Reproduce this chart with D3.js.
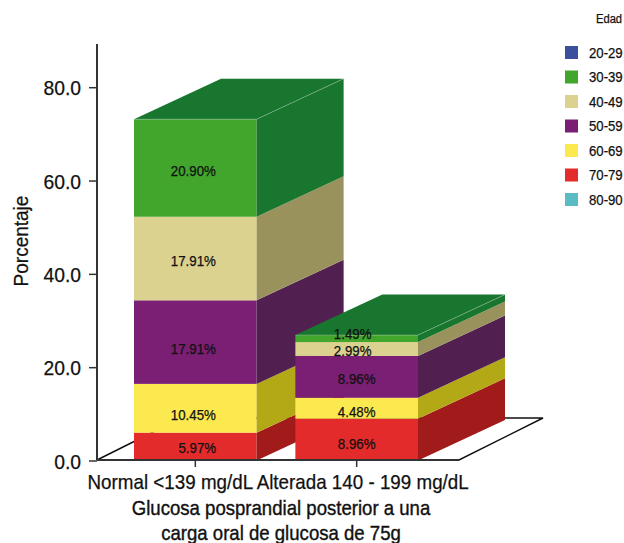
<!DOCTYPE html>
<html>
<head>
<meta charset="utf-8">
<script src="https://cdn.jsdelivr.net/npm/d3@7"></script>
<style>
  html, body { margin: 0; padding: 0; background: #fff; }
  svg { display: block; font-family: "Liberation Sans", Arial, sans-serif; }
  svg text { stroke: #111; stroke-width: 0.25px; }
  svg text.xtitle { stroke-width: 0.4px; }
</style>
</head>
<body>
<svg id="chart" width="624" height="543"></svg>
<script>
// values
const categories = ["Normal <139 mg/dL", "Alterada 140 - 199 mg/dL"];
const ageGroups = ["20-29", "30-39", "40-49", "50-59", "60-69", "70-79", "80-90"];
const stackOrder = ["70-79", "60-69", "50-59", "40-49", "30-39"];
const normalValues = [5.97, 10.45, 17.91, 17.91, 20.90];
const alteredValues = [8.96, 4.48, 8.96, 2.99, 1.49];
const yTicks = [0, 20, 40, 60, 80];

const frontColors = ["#3b4f9c", "#42a62c", "#dbd28f", "#7a1f73", "#fbe94f", "#e42b2b", "#5abcc2"];
const sideColors = { "30-39": "#19762f", "40-49": "#9a925c", "50-59": "#522050", "60-69": "#b3a816", "70-79": "#a21b1b" };

const svg = d3.select("#chart");

const y = d3.scaleLinear().domain([0, 80]).range([460.5, 87.2]);
const x = d3.scaleBand().domain(categories).range([134, 418]).paddingInner(0.24);
const front = d3.scaleOrdinal().domain(ageGroups).range(frontColors);

const depthX = 87, depthY = 40.5;
const axisColor = "#333";

// the font here is wider than the original, squeeze glyphs to fit
function condense(sel, k) {
  sel.each(function () {
    d3.select(this)
      .attr("textLength", this.getComputedTextLength() * k)
      .attr("lengthAdjust", "spacingAndGlyphs");
  });
  return sel;
}

const poly = pts => pts.map(p => p.join(",")).join(" ");

// floor
const floorLeft = 460;
svg.append("polygon")
  .attr("points", poly([[97, floorLeft], [459, floorLeft], [543, floorLeft - 42], [181, floorLeft - 42]]))
  .attr("fill", "#fff")
  .attr("stroke", "#111")
  .attr("stroke-width", 1.5);

// bars, back one first so the second covers it
const columns = [normalValues, alteredValues];
// small hand offsets for the value labels [dx, dy]
const labelNudge = [
  [[2, 1], [-2, 7], [-2, 7], [-2, 2], [-2, 3]],
  [[0, 4], [0, 3.5], [0, 2], [-4, 2], [-4, -4.5]]
];
const labels = [];

columns.forEach((values, c) => {
  const x0 = x(categories[c]);
  const x1 = x0 + x.bandwidth();
  const g = svg.append("g").attr("class", "bar");
  let sum = 0;

  values.forEach((v, i) => {
    const group = stackOrder[i];
    const yb = y(sum);
    const yt = y(sum + v);
    sum += v;

    g.append("rect")
      .attr("x", x0)
      .attr("y", yt)
      .attr("width", x1 - x0)
      .attr("height", yb - yt)
      .attr("fill", front(group));

    g.append("polygon")
      .attr("points", poly([[x1, yb], [x1 + depthX, yb - depthY], [x1 + depthX, yt - depthY], [x1, yt]]))
      .attr("fill", sideColors[group]);

    labels.push({
      text: v.toFixed(2) + "%",
      x: (x0 + x1) / 2 + labelNudge[c][i][0],
      y: (yb + yt) / 2 + labelNudge[c][i][1]
    });

    if (i === values.length - 1) {
      g.append("polygon")
        .attr("points", poly([[x0, yt], [x0 + depthX, yt - depthY], [x1 + depthX, yt - depthY], [x1, yt]]))
        .attr("fill", sideColors[group]);

      // faint highlight along the top edges
      g.append("polyline")
        .attr("points", poly([[x0, yt], [x1, yt], [x1 + depthX, yt - depthY]]))
        .attr("fill", "none")
        .attr("stroke", "#fff")
        .attr("stroke-opacity", 0.35)
        .attr("stroke-width", 0.7);
    }
  });
});

svg.append("g")
  .selectAll("text")
  .data(labels)
  .join("text")
  .attr("x", d => d.x)
  .attr("y", d => d.y)
  .attr("text-anchor", "middle")
  .attr("dominant-baseline", "central")
  .attr("font-size", 14)
  .attr("fill", "#111")
  .text(d => d.text)
  .call(condense, 0.95);

// axes
const yAxis = svg.append("g")
  .attr("transform", "translate(97,0)")
  .call(d3.axisLeft(y).tickValues(yTicks).tickFormat(d3.format(".1f")).tickSize(8).tickSizeOuter(0).tickPadding(8));
yAxis.select(".domain").attr("d", `M0,460V44`);

const xAxis = svg.append("g")
  .attr("transform", "translate(0,460)")
  .call(d3.axisBottom(x).tickSize(7).tickSizeOuter(0));
xAxis.select(".domain").attr("d", "M97,0H459");

[yAxis, xAxis].forEach(a => {
  a.select(".domain").attr("stroke", axisColor).attr("stroke-width", 2);
  a.selectAll(".tick line").attr("stroke", axisColor).attr("stroke-width", 1.5);
  a.selectAll(".tick text")
    .attr("font-family", "Liberation Sans")
    .attr("font-size", 21)
    .attr("fill", "#111");
});
yAxis.selectAll(".tick text").attr("dy", "0.36em").call(condense, 0.92);
// the category labels sit off their ticks in the original so they don't collide
const tickShift = [-25, 6];
xAxis.selectAll(".tick text")
  .attr("dy", "0.9em")
  .attr("dx", (d, i) => tickShift[i])
  .call(condense, 0.895);

// axis titles
svg.append("text")
  .attr("transform", "translate(28,241) rotate(-90)")
  .attr("text-anchor", "middle")
  .attr("font-size", 20)
  .attr("fill", "#111")
  .text("Porcentaje")
  .call(condense, 0.95);

svg.selectAll(".xtitle")
  .data(["Glucosa posprandial posterior a una", "carga oral de glucosa de 75g"])
  .join("text")
  .attr("class", "xtitle")
  .attr("x", 281)
  .attr("y", (d, i) => 515 + i * 25)
  .attr("text-anchor", "middle")
  .attr("font-size", 21)
  .attr("fill", "#111")
  .text(d => d)
  .call(condense, 0.885);

// legend
const legendY = d3.scalePoint().domain(ageGroups).range([52.5, 199.5]);

svg.append("text")
  .attr("x", 596)
  .attr("y", 23)
  .attr("font-size", 12)
  .attr("fill", "#111")
  .text("Edad")
  .call(condense, 0.93);

const legend = svg.append("g")
  .selectAll("g")
  .data(ageGroups)
  .join("g")
  .attr("transform", d => `translate(565,${legendY(d)})`);

legend.append("rect")
  .attr("y", -6.5)
  .attr("width", 13)
  .attr("height", 13)
  .attr("fill", d => front(d));

legend.append("text")
  .attr("x", 24)
  .attr("dy", "0.36em")
  .attr("font-size", 14)
  .attr("fill", "#111")
  .text(d => d)
  .call(condense, 0.94);
</script>
</body>
</html>
